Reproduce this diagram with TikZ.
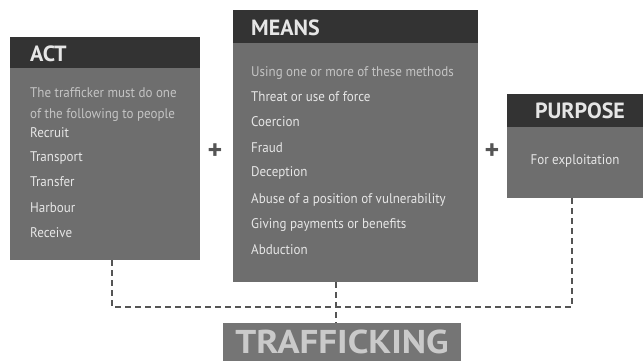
\documentclass[tikz,border=0pt]{standalone}
\usepackage{fontspec}
\setmainfont{PT Sans}
\usetikzlibrary{positioning}

\definecolor{headgray}{HTML}{333333}
\definecolor{bodygray}{HTML}{6E6E6E}
\definecolor{textgray}{HTML}{E6E6E6}
\definecolor{introgray}{HTML}{C4C4C4}
\definecolor{linegray}{HTML}{555555}

\tikzset{
  head/.style={rectangle,fill=headgray,anchor=north west,inner sep=0pt},
  body/.style={rectangle,fill=bodygray,anchor=north west,inner sep=0pt},
  title/.style={anchor=west,text=textgray,font=\fontsize{22}{24}\selectfont\bfseries,inner sep=0pt},
  item/.style={anchor=west,text=textgray,font=\fontsize{14}{16}\selectfont,inner sep=0pt,xscale=0.93},
  intro/.style={item,text=introgray},
  plus/.style={text=linegray,font=\fontsize{28}{28}\selectfont\bfseries,inner sep=0pt},
  link/.style={draw=linegray,line width=1.4pt,dash pattern=on 6pt off 4pt}
}

\begin{document}
\begin{tikzpicture}[x=1pt,y=-1pt]
  \useasboundingbox (0,0) rectangle (644,361);

  % act
  \node[head,minimum width=190pt,minimum height=31pt] (acthead) at (10,37) {};
  \node[body,minimum width=190pt,minimum height=192pt] (actbody) at (10,68) {};
  \node[title] at (30,54) {ACT};
  \node[intro] at (30,93) {The trafficker must do one};
  \node[intro] at (30,115) {of the following to people};
  \foreach \y/\txt in {133/Recruit,158/Transport,182/Transfer,208/Harbour,233/Receive}
    \node[item] at (30,\y) {\txt};

  % means
  \node[head,minimum width=245pt,minimum height=33pt] (meanshead) at (233,10) {};
  \node[body,minimum width=245pt,minimum height=239pt] (meansbody) at (233,43) {};
  \node[title] at (251,28) {MEANS};
  \node[intro] at (251,73) {Using one or more of these methods};
  \foreach \y/\txt in {97/Threat or use of force,122/Coercion,148/Fraud,173/Deception,
      200/Abuse of a position of vulnerability,225/Giving payments or benefits,250/Abduction}
    \node[item] at (251,\y) {\txt};

  % purpose
  \node[head,minimum width=136pt,minimum height=33pt] (purposehead) at (507,94) {};
  \node[body,minimum width=136pt,minimum height=71pt] (purposebody) at (507,127) {};
  \node[title,anchor=center] at (580,111) {PURPOSE};
  \node[item,anchor=center] at (575,161) {For exploitation};

  \node[plus] (p1) at (215,152) {+};
  \node[plus] (p2) at (492,152) {+};

  % result
  \node[body,fill=bodygray!95!white,minimum width=238pt,minimum height=38pt] (traffic) at (223,323) {};
  \node[text=introgray!90!white,font=\fontsize{33}{33}\selectfont\bfseries,inner sep=0pt,
    text depth=0pt,xscale=1.12,anchor=base] (trafficlabel) at (342,353) {TRAFFICKING};

  \coordinate (j1) at (112,307);
  \coordinate (j2) at (336,307);
  \coordinate (j3) at (572,307);
  \draw[link] (actbody.south -| j1) -- (j1) -- (j3) -- (purposebody.south -| j3);
  \draw[link] (meansbody.south -| j2) -- (traffic.north -| j2);

\end{tikzpicture}
\end{document}
